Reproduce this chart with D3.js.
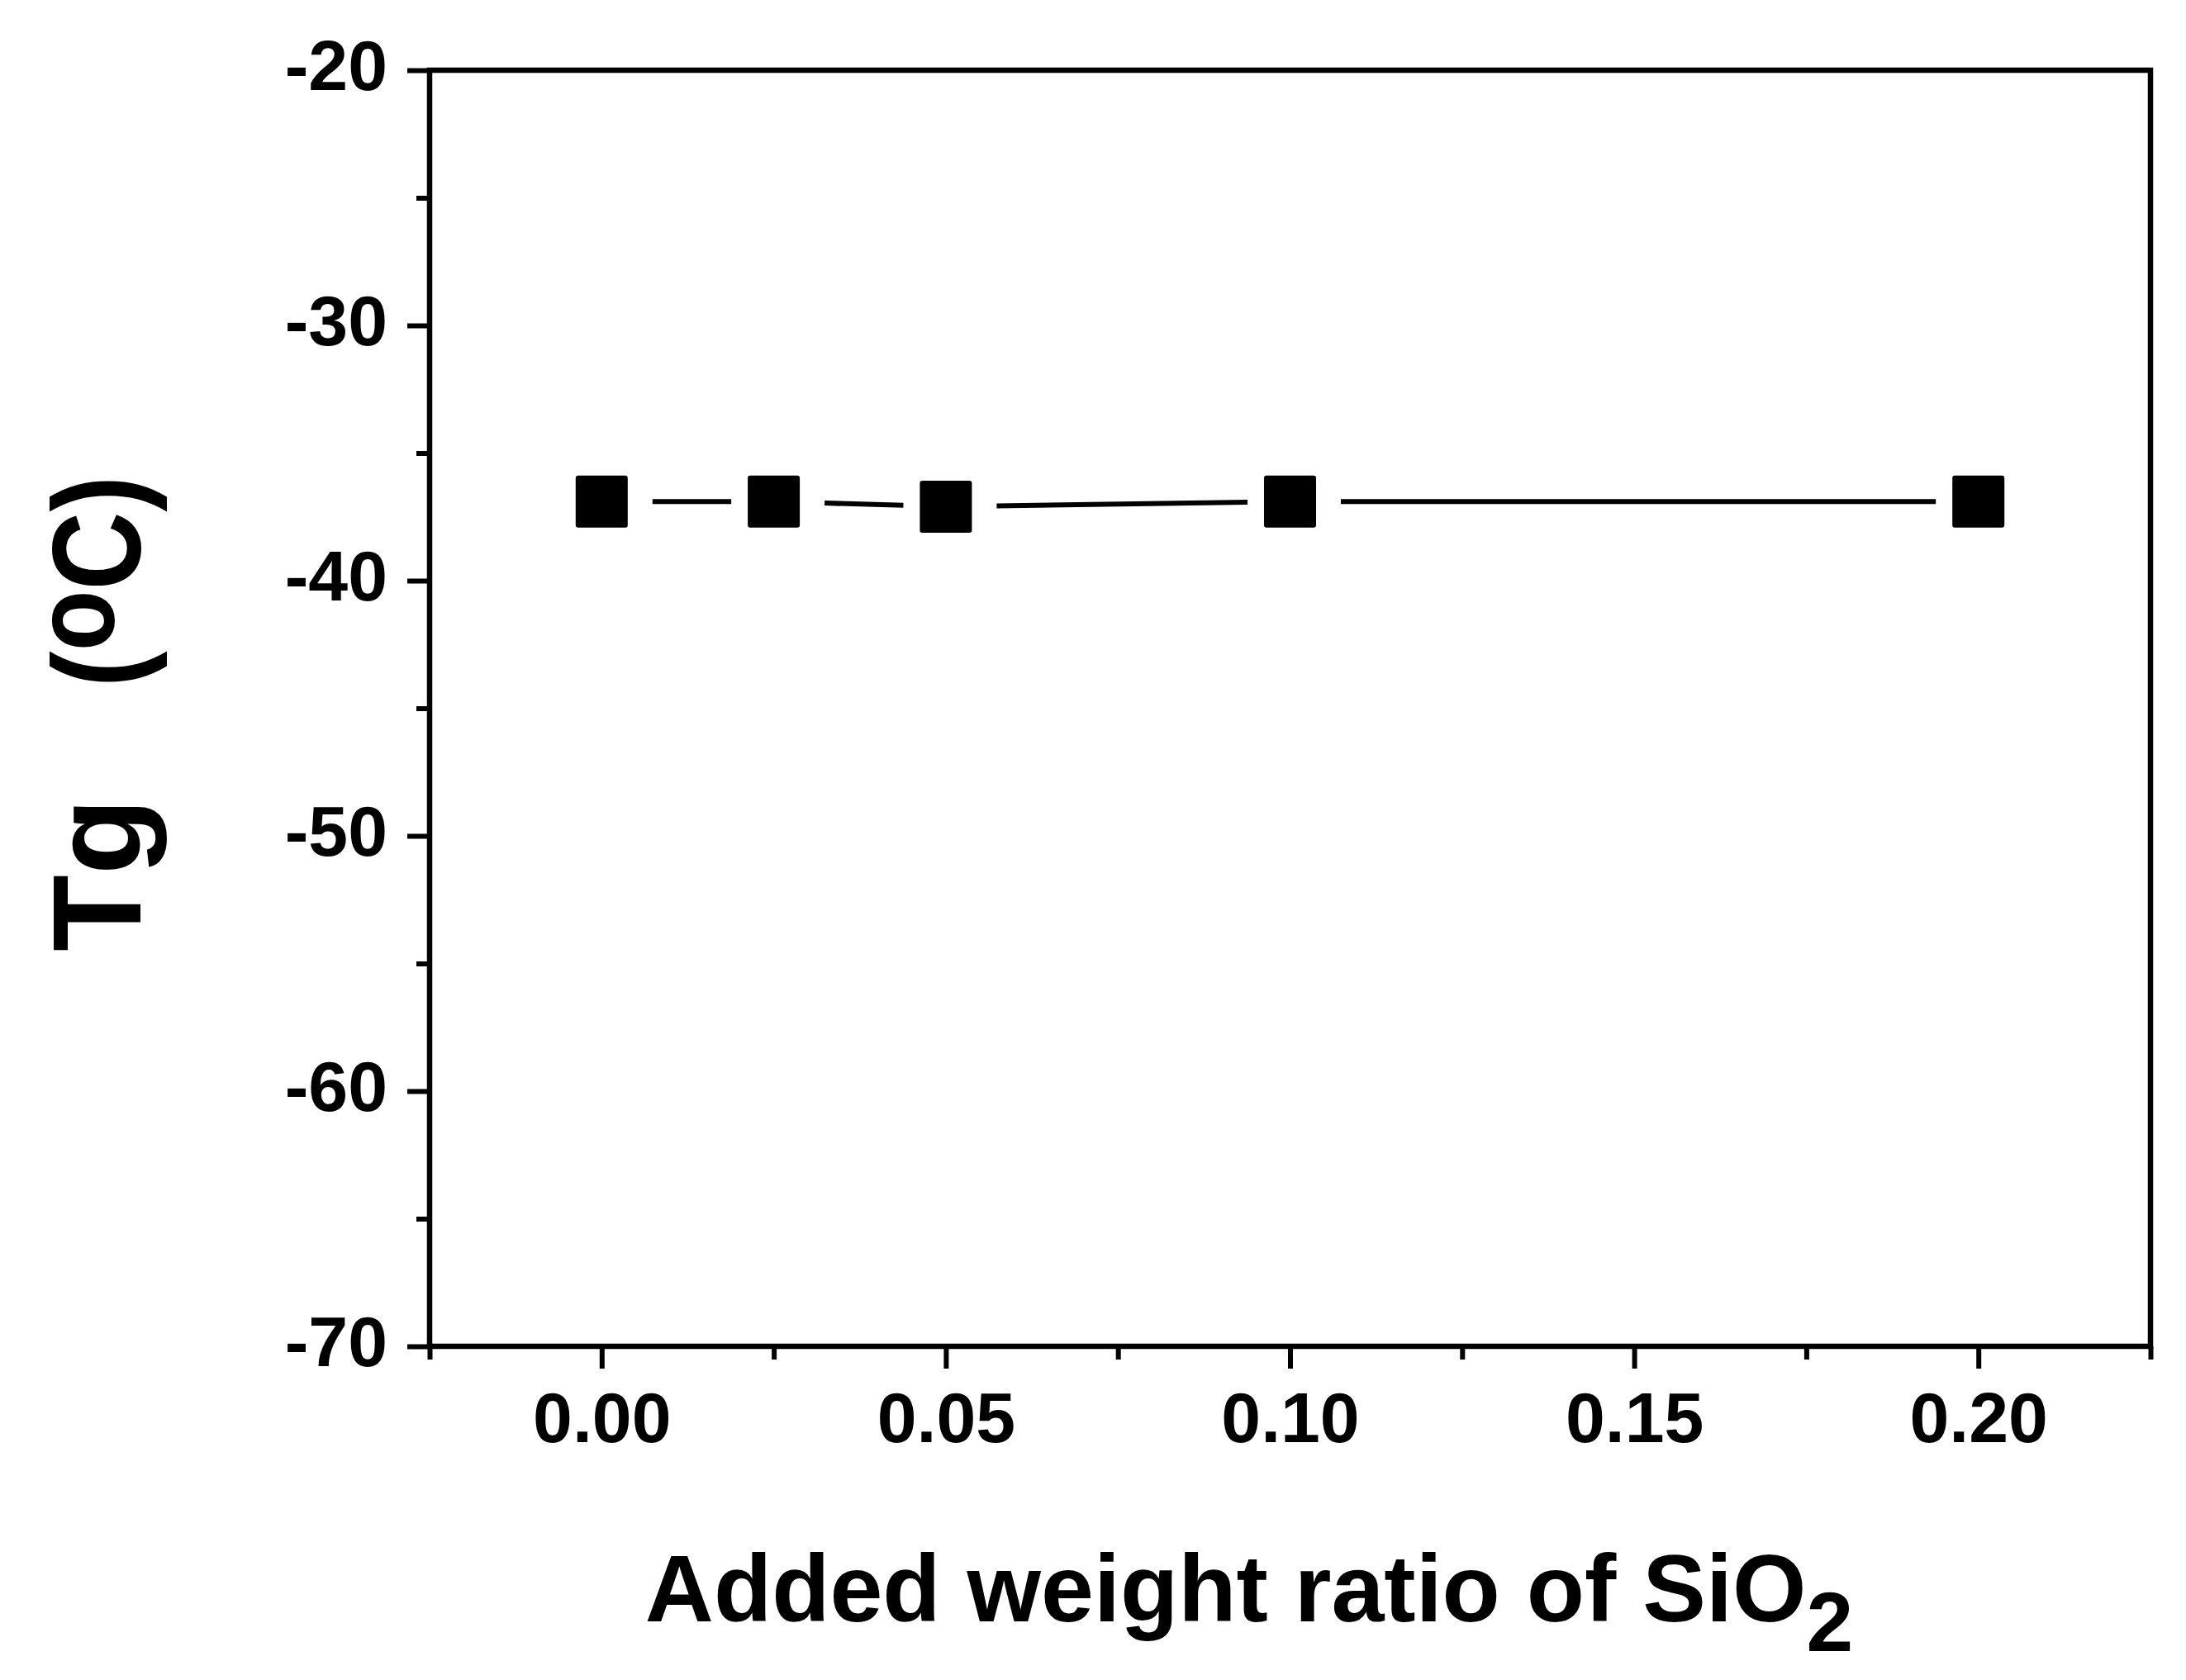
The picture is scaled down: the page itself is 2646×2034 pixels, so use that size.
<!DOCTYPE html>
<html>
<head>
<meta charset="utf-8">
<script src="https://cdn.jsdelivr.net/npm/d3@7"></script>
<style>
  html, body { margin: 0; padding: 0; background: #fff; }
  text { font-family: "Liberation Sans", Arial, sans-serif; font-weight: bold; fill: #000; }
</style>
</head>
<body>
<div id="vis"></div>
<script>
// data
var ratio = [0, 0.025, 0.05, 0.10, 0.20];
var tg = [-36.9, -36.9, -37.1, -36.9, -36.9];

var yTicks = [-70, -60, -50, -40, -30, -20];
var yMinor = [-65, -55, -45, -35, -25];
var xTicks = [0, 0.05, 0.10, 0.15, 0.20];
var xMinor = [-0.025, 0.025, 0.075, 0.125, 0.175, 0.225];

function draw() {
  var width = 2646, height = 2034;
  var left = 520, right = 2603, top = 85, bottom = 1630;
  var marker = 63;

  var svg = d3.select("#vis").append("svg")
              .attr("width", width)
              .attr("height", height);

  var x = d3.scaleLinear().domain([-0.025, 0.225]).range([left, right]);
  var y = d3.scaleLinear().domain([-70, -20]).range([bottom, top]);

  // y axis, major + minor
  var yAxis = svg.append("g")
                 .attr("transform", "translate(" + left + ",0)")
                 .call(d3.axisLeft(y).tickValues(yTicks)
                         .tickFormat(function(d){ return String(d); })
                         .tickSize(27).tickPadding(24));
  yAxis.select(".domain").remove();
  yAxis.selectAll("line").attr("stroke", "#000").attr("stroke-width", 6);
  yAxis.selectAll("text").attr("font-size", 86).attr("dy", "0.27em");

  var yAxisMinor = svg.append("g")
                      .attr("transform", "translate(" + left + ",0)")
                      .call(d3.axisLeft(y).tickValues(yMinor).tickFormat("").tickSize(16));
  yAxisMinor.select(".domain").remove();
  yAxisMinor.selectAll("line").attr("stroke", "#000").attr("stroke-width", 6);

  // x axis, major + minor
  var xAxis = svg.append("g")
                 .attr("transform", "translate(0," + bottom + ")")
                 .call(d3.axisBottom(x).tickValues(xTicks)
                         .tickFormat(d3.format(".2f"))
                         .tickSize(27).tickPadding(28));
  xAxis.select(".domain").remove();
  xAxis.selectAll("line").attr("stroke", "#000").attr("stroke-width", 6);
  xAxis.selectAll("text").attr("font-size", 86);

  var xAxisMinor = svg.append("g")
                      .attr("transform", "translate(0," + bottom + ")")
                      .call(d3.axisBottom(x).tickValues(xMinor).tickFormat("").tickSize(16));
  xAxisMinor.select(".domain").remove();
  xAxisMinor.selectAll("line").attr("stroke", "#000").attr("stroke-width", 6);

  // frame
  svg.append("rect")
     .attr("x", left).attr("y", top)
     .attr("width", right - left).attr("height", bottom - top)
     .attr("fill", "none")
     .attr("stroke", "#000")
     .attr("stroke-width", 6.5);

  // line segments with gaps round the symbols
  var pts = ratio.map(function(d, i){ return [x(d), y(tg[i])]; });
  var gapStart = marker / 2 + 30, gapEnd = marker / 2 + 20;
  for (var i = 0; i < pts.length - 1; i++) {
    var a = pts[i], b = pts[i + 1];
    var dx = b[0] - a[0], dy = b[1] - a[1];
    var len = Math.sqrt(dx * dx + dy * dy);
    var ux = dx / len, uy = dy / len;
    svg.append("line")
       .attr("x1", a[0] + ux * gapStart).attr("y1", a[1] + uy * gapStart)
       .attr("x2", b[0] - ux * gapEnd).attr("y2", b[1] - uy * gapEnd)
       .attr("stroke", "#000")
       .attr("stroke-width", 6);
  }

  // square symbols
  svg.selectAll("rect.pt")
     .data(ratio)
     .enter().append("rect")
     .attr("class", "pt")
     .attr("x", function(d){ return x(d) - marker / 2; })
     .attr("y", function(d, i){ return y(tg[i]) - marker / 2; })
     .attr("width", marker)
     .attr("height", marker)
     .attr("rx", 3)
     .attr("fill", "#000");

  // axis titles
  var xt = svg.append("text")
              .attr("x", 1512)
              .attr("y", 1963)
              .attr("text-anchor", "middle")
              .attr("font-size", 115)
              .text("Added weight ratio of SiO");
  xt.append("tspan").attr("font-size", 102).attr("dy", 36).text("2");

  svg.append("text")
     .attr("transform", "translate(170,1152) rotate(-90)")
     .attr("text-anchor", "start")
     .attr("font-size", 152)
     .text("Tg");

  var unit = svg.append("text")
                .attr("transform", "translate(170,832) rotate(-90)")
                .attr("text-anchor", "start")
                .attr("font-size", 152)
                .attr("textLength", 256)
                .attr("lengthAdjust", "spacingAndGlyphs")
                .text("(");
  unit.append("tspan").attr("font-size", 140).attr("dy", -32).text("o");
  unit.append("tspan").attr("dy", 32).text("C)");
}

draw();
</script>
</body>
</html>
